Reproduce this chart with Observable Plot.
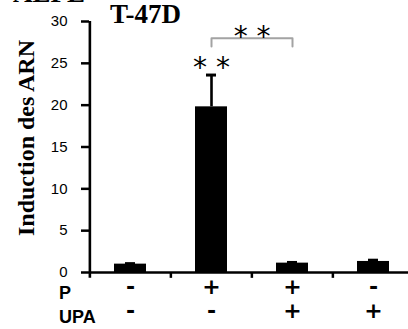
<!DOCTYPE html>
<html><head><meta charset="utf-8">
<script src="https://cdn.jsdelivr.net/npm/d3@7"></script>
<script src="https://cdn.jsdelivr.net/npm/@observablehq/plot@0.6"></script>
<style>
body{margin:0;background:#fff}
#wrap{position:relative;width:408px;height:329px;overflow:hidden;background:#fff}
.t{position:absolute;white-space:nowrap;color:#000}
.serif{font-family:"Liberation Serif",serif;font-weight:bold;font-size:27px;line-height:27px}
.sans{font-family:"Liberation Sans",Arial,sans-serif;font-weight:bold;font-size:18px;line-height:18px}
</style></head><body>
<div id="wrap">
  <div class="t serif" style="left:13px;top:-20px">ALPE</div>
  <div class="t serif" style="left:110px;top:1px">T-47D</div>
  <div class="t sans" style="left:59px;top:284px">P</div>
  <div class="t sans" style="left:59px;top:308px">UPA</div>
</div>
<script>
const groups = ["g1", "g2", "g3", "g4"];
const pRow = ["-", "+", "+", "-"];
const upaRow = ["-", "-", "+", "+"];
const induction = [1.0, 19.8, 1.12, 1.32];
const errorBars = [0.06, 3.8, 0.08, 0.15];
const yTicks = [0, 5, 10, 15, 20, 25, 30];
const yLabel = "Induction des ARN";
const starMarks = [{group: "g2", label: "* *"}];
const bracket = {from: "g2", to: "g3", top: 28, leg: 1, label: "* *"};

const data = groups.map((g, i) => ({g, v: induction[i], e: errorBars[i], p: pRow[i], u: upaRow[i]}));
const half = 325 / groups.length / 2;
const bracketPts = [
  {x: bracket.from, y: bracket.top - bracket.leg},
  {x: bracket.from, y: bracket.top},
  {x: bracket.to, y: bracket.top},
  {x: bracket.to, y: bracket.top - bracket.leg}
];
const sigData = starMarks.map(s => {
  const d = data.find(r => r.g === s.group);
  return {g: s.group, y: d.v + d.e, label: s.label};
});

const chart = Plot.plot({
  width: 408,
  height: 329,
  marginLeft: 89,
  marginRight: 0,
  marginTop: 21,
  marginBottom: 57,
  style: {background: "transparent", overflow: "visible"},
  x: {domain: groups, range: [89, 414], paddingInner: 0.6, paddingOuter: 0.3, axis: null},
  y: {domain: [0, 30], range: [272, 21], axis: null},
  marks: [
    Plot.barY(data, {x: "g", y: "v", fill: "black"}),
    Plot.ruleX(data, {x: "g", y1: "v", y2: d => d.v + d.e, stroke: "black", strokeWidth: 2.6}),
    Plot.tickY(data, {x: "g", y: d => d.v + d.e, stroke: "black", strokeWidth: 3, insetLeft: 11, insetRight: 11}),
    Plot.ruleY([0], {stroke: "black", strokeWidth: 2.5}),
    Plot.ruleX([groups[0]], {x: d => d, dx: -half, y1: -0.7, y2: 30, stroke: "black", strokeWidth: 2.6}),
    Plot.ruleX(groups.slice(1), {x: d => d, dx: -half, y1: 0, y2: -0.7, stroke: "black", strokeWidth: 2.5}),
    Plot.axisY({ticks: yTicks, tickSize: 8, tickPadding: 14, strokeWidth: 2.5, fontSize: 15,
      fontFamily: "'Liberation Sans', Arial, sans-serif", label: null}),
    Plot.text([yLabel], {text: d => d, frameAnchor: "left", textAnchor: "middle", rotate: -90, dx: -63.5, dy: -9,
      fontSize: 24, fontWeight: "bold", fontFamily: "'Liberation Serif', serif", fill: "black"}),
    Plot.line(bracketPts, {x: "x", y: "y", stroke: "#a3a3a3", strokeWidth: 2}),
    Plot.text([bracket], {x: "from", y: "top", text: "label", dx: half, dy: -1, fontSize: 28,
      fontFamily: "'DejaVu Sans', sans-serif", fill: "black"}),
    Plot.text(sigData, {x: "g", y: "y", text: "label", dy: -7, fontSize: 28,
      fontFamily: "'DejaVu Sans', sans-serif", fill: "black"}),
    Plot.text(data, {x: "g", text: "p", frameAnchor: "bottom", dy: 21, fontSize: 22, fontWeight: "bold",
      fontFamily: "'DejaVu Sans', sans-serif", fill: "black"}),
    Plot.text(data, {x: "g", text: "u", frameAnchor: "bottom", dy: 45, fontSize: 22, fontWeight: "bold",
      fontFamily: "'DejaVu Sans', sans-serif", fill: "black"})
  ]
});
chart.style.position = "absolute";
chart.style.left = "0";
chart.style.top = "0";
document.getElementById("wrap").prepend(chart);
</script>
</body></html>
